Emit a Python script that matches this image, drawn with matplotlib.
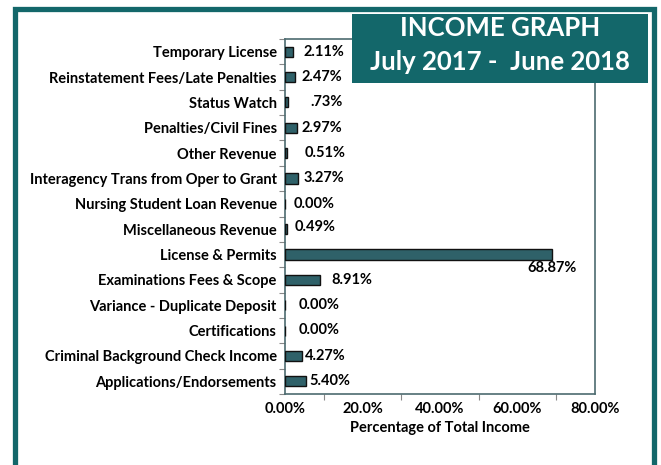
import matplotlib
matplotlib.use("Agg")
import matplotlib.pyplot as plt
from matplotlib.patches import Rectangle
from matplotlib.ticker import FixedLocator

categories = [
    "Temporary License",
    "Reinstatement Fees/Late Penalties",
    "Status Watch",
    "Penalties/Civil Fines",
    "Other Revenue",
    "Interagency Trans from Oper to Grant",
    "Nursing Student Loan Revenue",
    "Miscellaneous Revenue",
    "License & Permits",
    "Examinations Fees & Scope",
    "Variance - Duplicate Deposit",
    "Certifications",
    "Criminal Background Check Income",
    "Applications/Endorsements",
]
values = [2.11, 2.47, 0.73, 2.97, 0.51, 3.27, 0.00, 0.49, 68.87, 8.91, 0.00, 0.00, 4.27, 5.40]
value_labels = ["2.11%", "2.47%", ".73%", "2.97%", "0.51%", "3.27%", "0.00%", "0.49%",
                "68.87%", "8.91%", "0.00%", "0.00%", "4.27%", "5.40%"]
x_ticks = [0, 20, 40, 60, 80]
x_tick_labels = ["0.00%", "20.0%", "40.00%", "60.00%", "80.00%"]

# label placement (pixel offsets from bar end)
label_dx = [10, 7, 23, 4.5, 18, 6, 9, 8, 0, 11.5, 14, 14, 3.5, 3]
label_dy = [0, 0, 0, 0, 0, 0, 0, 2, -13, 0, 0, 1, 0, 0]

FONT = "Lato"
FS = 10.5
TEAL = "#13676A"
BAR = "#2F6169"
SPINE = "#4d6b70"

fig = plt.figure(figsize=(6.61, 4.65), dpi=100)
fig.patch.set_facecolor("white")
W, H = 661, 465

ax = fig.add_axes([285 / W, 1 - 394 / H, 310 / W, 355 / H])
ypos = list(range(len(categories)))
ax.barh(ypos, values, height=0.4, color=BAR, edgecolor="#111111", linewidth=1.0, zorder=3)
ax.set_ylim(len(categories) - 0.5, -0.5)
ax.set_xlim(0, 80)

ax.set_yticks(ypos)
ax.set_yticklabels(categories, fontfamily=FONT, fontweight="bold", fontsize=FS)
ax.tick_params(axis="y", which="major", length=0, pad=6)
ax.yaxis.set_minor_locator(FixedLocator([i - 0.5 for i in range(len(categories) + 1)]))
ax.tick_params(axis="y", which="minor", length=4, color="#888888", width=0.8)

ax.set_xticks(x_ticks)
ax.set_xticklabels(x_tick_labels, fontfamily=FONT, fontweight="bold", fontsize=FS)
ax.tick_params(axis="x", which="major", length=0, pad=6)
ax.xaxis.set_minor_locator(FixedLocator([0, 10, 30, 50, 70, 80]))
ax.tick_params(axis="x", which="minor", length=4, color="#888888", width=0.8)
ax.set_xlabel("Percentage of Total Income", fontfamily=FONT, fontweight="bold",
              fontsize=FS, labelpad=3)

for s in ax.spines.values():
    s.set_color(SPINE)
    s.set_linewidth(1.2)

for i, (v, lab) in enumerate(zip(values, value_labels)):
    if lab == "68.87%":
        ax.annotate(lab, (v, i), xytext=(0, label_dy[i] * 0.72), textcoords="offset points",
                    ha="center", va="center", fontfamily=FONT, fontweight="bold", fontsize=FS)
    else:
        ax.annotate(lab, (v, i), xytext=(label_dx[i] * 0.72, label_dy[i] * 0.72),
                    textcoords="offset points", ha="left", va="center",
                    fontfamily=FONT, fontweight="bold", fontsize=FS)

# outer frame
fig.patches.append(Rectangle((14.5 / W, -0.05), (653.5 - 14.5) / W, 1.05 - 9 / H,
                             transform=fig.transFigure, fill=False, edgecolor=TEAL,
                             linewidth=3.8, zorder=5))

# title box
fig.patches.append(Rectangle((352 / W, 1 - 83 / H), 296 / W, 69 / H,
                             transform=fig.transFigure, facecolor=TEAL, edgecolor="none",
                             zorder=6))
fig.text(500 / W, 1 - 28 / H, "INCOME GRAPH", ha="center", va="center", color="white",
         fontfamily=FONT, fontweight="bold", fontsize=18.5, zorder=7)
fig.text(500 / W, 1 - 62 / H, "July 2017 -  June 2018", ha="center", va="center",
         color="white", fontfamily=FONT, fontweight="bold", fontsize=18.5, zorder=7)

fig.savefig("out.png", dpi=100, facecolor="white")
